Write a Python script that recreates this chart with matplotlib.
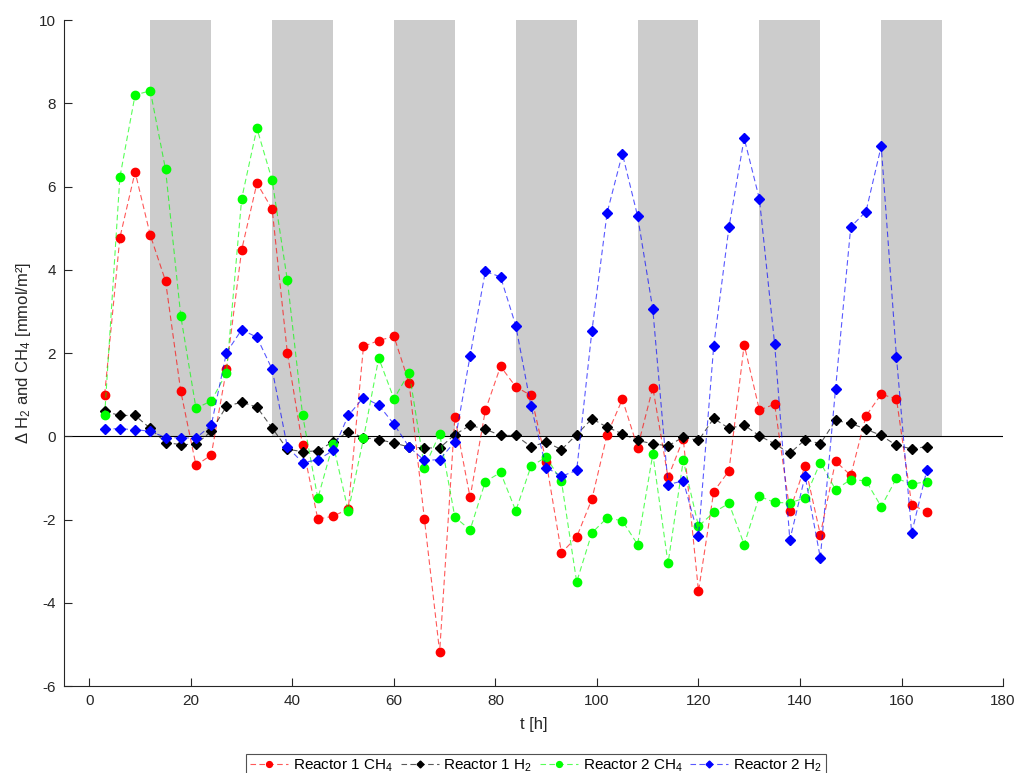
import matplotlib
matplotlib.use("Agg")
import matplotlib.pyplot as plt
import numpy as np

plt.rcParams['font.family'] = ['Liberation Sans', 'DejaVu Sans']
plt.rcParams['mathtext.default'] = 'regular'
plt.rcParams['axes.unicode_minus'] = False

t = np.arange(3, 166, 3)

r1_ch4 = [1.00, 4.77, 6.35, 4.83, 3.73, 1.08, -0.70, -0.45, 1.61, 4.48,
          6.08, 5.46, 2.00, -0.22, -1.99, -1.92, -1.75, 2.16, 2.30, 2.40,
          1.27, -1.99, -5.18, 0.46, -1.47, 0.62, 1.68, 1.19, 0.98, -0.62,
          -2.80, -2.42, -1.51, 0.04, 0.89, -0.27, 1.17, -0.99, -0.06, -3.72,
          -1.33, -0.83, 2.20, 0.63, 0.77, -1.79, -0.71, -2.36, -0.60, -0.94,
          0.49, 1.01, 0.90, -1.64, -1.82]

r1_h2 = [0.60, 0.50, 0.50, 0.19, -0.15, -0.20, -0.19, 0.12, 0.72, 0.82,
         0.70, 0.20, -0.31, -0.37, -0.35, -0.13, 0.11, -0.03, -0.08, -0.16,
         -0.26, -0.28, -0.28, 0.04, 0.26, 0.17, 0.02, 0.02, -0.25, -0.14,
         -0.32, 0.04, 0.42, 0.22, 0.06, -0.10, -0.18, -0.23, -0.02, -0.10,
         0.43, 0.19, 0.27, 0.01, -0.18, -0.41, -0.08, -0.18, 0.38, 0.31,
         0.17, 0.02, -0.22, -0.30, -0.25]

r2_ch4 = [0.50, 6.22, 8.20, 8.30, 6.41, 2.89, 0.67, 0.85, 1.52, 5.71,
          7.40, 6.15, 3.75, 0.51, -1.49, -0.18, -1.80, -0.05, 1.88, 0.90,
          1.53, -0.75, 0.06, -1.94, -2.25, -1.09, -0.87, -1.79, -0.72, -0.50,
          -1.08, -3.50, -2.32, -1.96, -2.03, -2.60, -0.43, -3.05, -0.58, -2.16,
          -1.83, -1.61, -2.60, -1.44, -1.59, -1.60, -1.48, -0.63, -1.28, -1.04,
          -1.07, -1.69, -1.01, -1.15, -1.09]

r2_h2 = [0.18, 0.18, 0.16, 0.12, -0.03, -0.04, -0.04, 0.26, 2.01, 2.56,
         2.38, 1.61, -0.26, -0.63, -0.57, -0.34, 0.50, 0.93, 0.75, 0.29,
         -0.26, -0.58, -0.56, -0.13, 1.93, 3.96, 3.83, 2.66, 0.72, -0.75,
         -0.96, -0.82, 2.53, 5.37, 6.79, 5.29, 3.05, -1.16, -1.07, -2.40,
         2.17, 5.02, 7.16, 5.70, 2.22, -2.49, -0.95, -2.92, 1.14, 5.03,
         5.40, 6.97, 1.91, -2.32, -0.81]

dark_start = [12, 36, 60, 84, 108, 132, 156]
dark_len = 12

labels = ['Reactor 1 CH$_4$', 'Reactor 1 H$_2$', 'Reactor 2 CH$_4$', 'Reactor 2 H$_2$']
series = [r1_ch4, r1_h2, r2_ch4, r2_h2]
colors = [(1, 0, 0), (0, 0, 0), (0, 1, 0), (0, 0, 1)]
markers = ['o', 'D', 'o', 'D']
msizes = [6, 5, 6, 5]

fig = plt.figure(figsize=(10.18, 7.73), dpi=100)
ax = fig.add_axes([0.0629, 0.1125, 0.9224, 0.8616])

for s in dark_start:
    ax.fill_between([s, s + dark_len], 0, 10, color='#cccccc', lw=0, zorder=0)

ax.axhline(0, color='black', lw=0.8, zorder=1)

for y, c, m, ms, lab in zip(series, colors, markers, msizes, labels):
    ax.plot(t, y, linestyle='--', dashes=(5, 3), lw=0.8, color=c + (0.65,),
            marker=m, markersize=ms, markerfacecolor=c, markeredgecolor=c,
            label=lab, zorder=3)

ax.set_xlim(-5, 180)
ax.set_ylim(-6, 10)
ax.set_xticks(np.arange(0, 181, 20))
ax.set_yticks(np.arange(-6, 11, 2))
for sp in ['top', 'right']:
    ax.spines[sp].set_visible(False)
for sp in ['left', 'bottom']:
    ax.spines[sp].set_color('#262626')
    ax.spines[sp].set_linewidth(0.8)
ax.tick_params(direction='in', length=6, width=0.8, colors='#262626',
               labelsize=11, labelcolor='#262626', pad=6)
ax.set_xlabel('t [h]', fontsize=12, color='#262626', labelpad=6)
ax.set_ylabel('Δ H$_2$ and CH$_4$ [mmol/m²]', fontsize=12, color='#262626', labelpad=4)

leg = ax.legend(loc='upper center', bbox_to_anchor=(0.5265, 0.0349),
                bbox_transform=fig.transFigure, ncol=4, fontsize=11,
                frameon=True, fancybox=False, edgecolor='#262626',
                handlelength=2.5, handletextpad=0.3, columnspacing=0.5,
                borderpad=0.25, markerscale=0.7)
leg.get_frame().set_linewidth(0.8)

fig.savefig('out.png', dpi=100)
